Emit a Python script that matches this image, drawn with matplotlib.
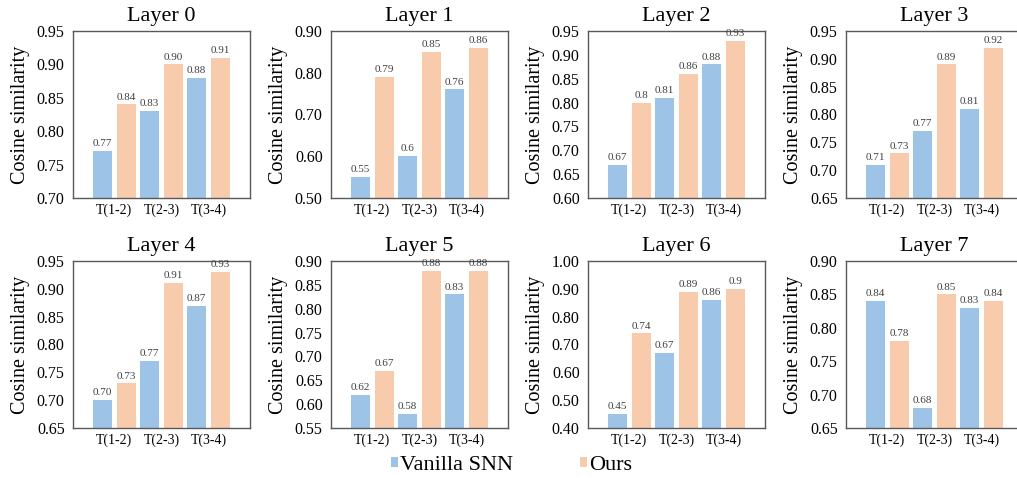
import matplotlib
matplotlib.use("Agg")
import matplotlib.pyplot as plt
from matplotlib.patches import Patch
import numpy as np

plt.rcParams['font.family'] = ['Liberation Serif', 'DejaVu Serif']

categories = ["T(1-2)", "T(2-3)", "T(3-4)"]
series_names = ["Vanilla SNN", "Ours"]

layer0_snn = [0.77, 0.83, 0.88]
layer0_ours = [0.84, 0.90, 0.91]
layer0_snn_lbl = ["0.77", "0.83", "0.88"]
layer0_ours_lbl = ["0.84", "0.90", "0.91"]

layer1_snn = [0.55, 0.60, 0.76]
layer1_ours = [0.79, 0.85, 0.86]
layer1_snn_lbl = ["0.55", "0.6", "0.76"]
layer1_ours_lbl = ["0.79", "0.85", "0.86"]

layer2_snn = [0.67, 0.81, 0.88]
layer2_ours = [0.80, 0.86, 0.93]
layer2_snn_lbl = ["0.67", "0.81", "0.88"]
layer2_ours_lbl = ["0.8", "0.86", "0.93"]

layer3_snn = [0.71, 0.77, 0.81]
layer3_ours = [0.73, 0.89, 0.92]
layer3_snn_lbl = ["0.71", "0.77", "0.81"]
layer3_ours_lbl = ["0.73", "0.89", "0.92"]

layer4_snn = [0.70, 0.77, 0.87]
layer4_ours = [0.73, 0.91, 0.93]
layer4_snn_lbl = ["0.70", "0.77", "0.87"]
layer4_ours_lbl = ["0.73", "0.91", "0.93"]

layer5_snn = [0.62, 0.58, 0.83]
layer5_ours = [0.67, 0.88, 0.88]
layer5_snn_lbl = ["0.62", "0.58", "0.83"]
layer5_ours_lbl = ["0.67", "0.88", "0.88"]

layer6_snn = [0.45, 0.67, 0.86]
layer6_ours = [0.74, 0.89, 0.90]
layer6_snn_lbl = ["0.45", "0.67", "0.86"]
layer6_ours_lbl = ["0.74", "0.89", "0.9"]

layer7_snn = [0.84, 0.68, 0.83]
layer7_ours = [0.78, 0.85, 0.84]
layer7_snn_lbl = ["0.84", "0.68", "0.83"]
layer7_ours_lbl = ["0.78", "0.85", "0.84"]

layer_titles = ["Layer 0", "Layer 1", "Layer 2", "Layer 3",
                "Layer 4", "Layer 5", "Layer 6", "Layer 7"]
layer_yticks = [
    [0.70, 0.75, 0.80, 0.85, 0.90, 0.95],
    [0.50, 0.60, 0.70, 0.80, 0.90],
    [0.60, 0.65, 0.70, 0.75, 0.80, 0.85, 0.90, 0.95],
    [0.65, 0.70, 0.75, 0.80, 0.85, 0.90, 0.95],
    [0.65, 0.70, 0.75, 0.80, 0.85, 0.90, 0.95],
    [0.55, 0.60, 0.65, 0.70, 0.75, 0.80, 0.85, 0.90],
    [0.40, 0.50, 0.60, 0.70, 0.80, 0.90, 1.00],
    [0.65, 0.70, 0.75, 0.80, 0.85, 0.90],
]

snn_all = [layer0_snn, layer1_snn, layer2_snn, layer3_snn,
           layer4_snn, layer5_snn, layer6_snn, layer7_snn]
ours_all = [layer0_ours, layer1_ours, layer2_ours, layer3_ours,
            layer4_ours, layer5_ours, layer6_ours, layer7_ours]
snn_lbl_all = [layer0_snn_lbl, layer1_snn_lbl, layer2_snn_lbl, layer3_snn_lbl,
               layer4_snn_lbl, layer5_snn_lbl, layer6_snn_lbl, layer7_snn_lbl]
ours_lbl_all = [layer0_ours_lbl, layer1_ours_lbl, layer2_ours_lbl, layer3_ours_lbl,
                layer4_ours_lbl, layer5_ours_lbl, layer6_ours_lbl, layer7_ours_lbl]

C_SNN = "#9DC3E6"
C_OURS = "#F8CBAD"
SPINE = "#595959"

W, H = 1017, 478
fig = plt.figure(figsize=(W / 100, H / 100), dpi=100)

lefts = [73, 331, 588, 846]
tops = [31, 261]
aw, ah = 177, 167

x = np.arange(len(categories))
bw = 0.40
off = 0.255

for i in range(8):
    r, c = divmod(i, 4)
    l = lefts[c]
    t = tops[r]
    ax = fig.add_axes([l / W, (H - t - ah) / H, aw / W, ah / H])
    yt = layer_yticks[i]
    b1 = ax.bar(x - off, snn_all[i], bw, color=C_SNN, zorder=2)
    b2 = ax.bar(x + off, ours_all[i], bw, color=C_OURS, zorder=2)
    ax.bar_label(b1, labels=snn_lbl_all[i], padding=2, fontsize=8, color="#404040")
    ax.bar_label(b2, labels=ours_lbl_all[i], padding=2, fontsize=8, color="#404040")
    ax.set_ylim(yt[0], yt[-1])
    ax.set_xlim(-0.88, 2.88)
    ax.set_yticks(yt)
    ax.set_yticklabels([f"{v:.2f}" for v in yt])
    ax.set_xticks(x)
    ax.set_xticklabels(categories)
    ax.tick_params(axis='y', length=0, pad=6, labelsize=11.5, colors='black')
    ax.tick_params(axis='x', length=0, pad=4, labelsize=10, colors='black')
    for s in ax.spines.values():
        s.set_color(SPINE)
        s.set_linewidth(1.0)
    ax.set_title(layer_titles[i], fontsize=16, pad=7)
    ax.set_ylabel("Cosine similarity", fontsize=14.5, labelpad=5)

handles = [Patch(facecolor=C_SNN, edgecolor='none'), Patch(facecolor=C_OURS, edgecolor='none')]
fig.legend(handles, series_names, loc='center', bbox_to_anchor=(0.503, 0.027),
           ncol=2, frameon=False, fontsize=16, handlelength=0.32, handleheight=0.32,
           handletextpad=0.1, columnspacing=3.0)

fig.savefig("out.png", dpi=100)
